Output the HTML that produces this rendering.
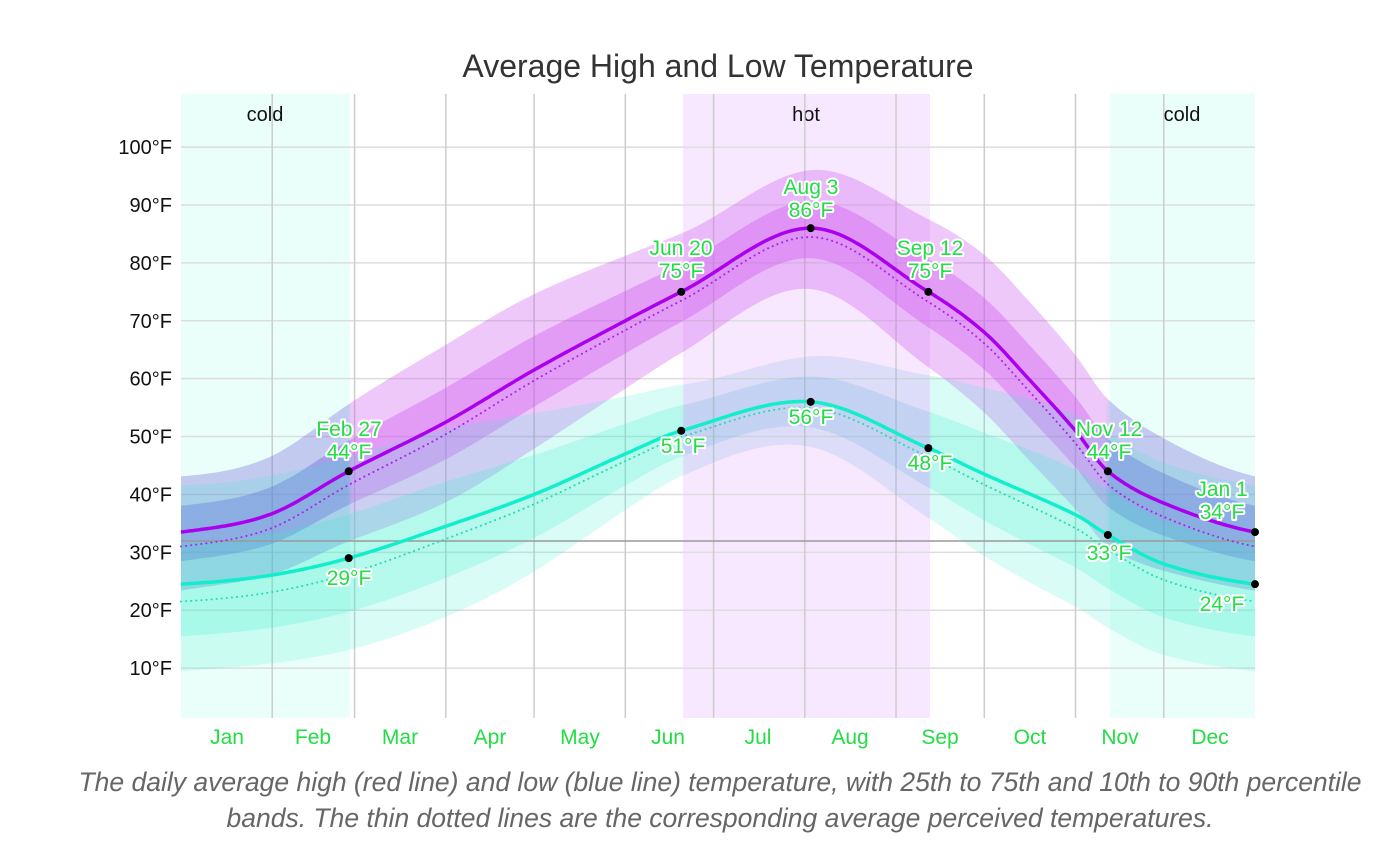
<!DOCTYPE html><html><head><meta charset="utf-8"><style>
body{margin:0;background:#fff;width:1400px;height:861px;overflow:hidden;font-family:"Liberation Sans",sans-serif}
.cap{position:absolute;left:0;width:1440px;text-align:center;top:764px;font-style:italic;color:#666;font-size:26.5px;line-height:36px;white-space:nowrap}
</style></head><body>
<svg id="s" width="1400" height="861" style="position:absolute;left:0;top:0" font-family="Liberation Sans, sans-serif">
<defs>
<linearGradient id="gh" x1="181" x2="1255" gradientUnits="userSpaceOnUse">
<stop offset="0" stop-color="#6a5ad8"/><stop offset="0.155" stop-color="#6a5ad8"/><stop offset="0.16" stop-color="#cc55ee"/><stop offset="0.86" stop-color="#cc55ee"/><stop offset="0.865" stop-color="#6a5ad8"/><stop offset="1" stop-color="#6a5ad8"/></linearGradient>
<linearGradient id="gl" x1="181" x2="1255" gradientUnits="userSpaceOnUse">
<stop offset="0" stop-color="#33eecc"/><stop offset="0.465" stop-color="#33eecc"/><stop offset="0.47" stop-color="#66aadd"/><stop offset="0.695" stop-color="#66aadd"/><stop offset="0.70" stop-color="#33eecc"/><stop offset="1" stop-color="#33eecc"/></linearGradient>
</defs>
<rect x="181" y="94" width="169" height="624" fill="#ebfffa"/>
<rect x="1110" y="94" width="145" height="624" fill="#ebfffa"/>
<rect x="683" y="94" width="247" height="624" fill="#f8e8ff"/>
<text x="718" y="77" text-anchor="middle" font-size="32" fill="#333">Average High and Low Temperature</text>
<text x="265" y="121" text-anchor="middle" font-size="20" fill="#111">cold</text>
<text x="806" y="121" text-anchor="middle" font-size="20" fill="#111">hot</text>
<text x="1182" y="121" text-anchor="middle" font-size="20" fill="#111">cold</text>
<g id="grid"></g>
<g id="bands"></g>
<line x1="181" x2="1255" y1="541" y2="541" stroke="#999" stroke-width="1.5"/>
<g id="lines"></g>
<g id="labs" font-size="21" fill="#22dd44" text-anchor="middle" stroke="#fff" stroke-width="4" paint-order="stroke" stroke-linejoin="round"></g>
</svg>
<div class="cap">The daily average high (red line) and low (blue line) temperature, with 25th to 75th and 10th to 90th percentile<br>bands. The thin dotted lines are the corresponding average perceived temperatures.</div>
<script>
const NS="http://www.w3.org/2000/svg";
function el(p,t,a,txt){const e=document.createElementNS(NS,t);for(const k in a)e.setAttribute(k,a[k]);if(txt!==undefined)e.textContent=txt;document.getElementById(p).appendChild(e);return e;}
const X=d=>181+d*1074/365, Y=t=>726-t*5.789;
for(let t=10;t<=100;t+=10){el('grid','line',{x1:181,x2:1255,y1:Y(t),y2:Y(t),stroke:'#ddd','stroke-width':1.5});
el('grid','text',{x:172,y:Y(t)+7,'text-anchor':'end','font-size':20,fill:'#111'},t+'°F');}
const mb=[31,59,90,120,151,181,212,243,273,304,334];
mb.forEach(d=>el('grid','line',{x1:X(d),x2:X(d),y1:94,y2:718,stroke:'#ccc','stroke-width':1.5}));
const mn=['Jan','Feb','Mar','Apr','May','Jun','Jul','Aug','Sep','Oct','Nov','Dec'],mc=[227,313,400,490,580,668,758,850,940,1030,1120,1210];
mn.forEach((m,i)=>el('grid','text',{x:mc[i],y:744,'text-anchor':'middle','font-size':21,fill:'#22dd44'},m));
function interp(P,d){let i=0;while(i<P.length-2&&d>P[i+1][0])i++;
const p0=P[Math.max(i-1,0)],p1=P[i],p2=P[i+1],p3=P[Math.min(i+2,P.length-1)];
const u=(d-p1[0])/(p2[0]-p1[0]);
const m1=(p2[1]-p0[1])/(p2[0]-p0[0]||1)*(p2[0]-p1[0]),m2=(p3[1]-p1[1])/(p3[0]-p1[0]||1)*(p2[0]-p1[0]);
const u2=u*u,u3=u2*u;return (2*u3-3*u2+1)*p1[1]+(u3-2*u2+u)*m1+(-2*u3+3*u2)*p2[1]+(u3-u2)*m2;}
const H=[[-20,33.2],[0,33.5],[30,36.5],[57,44],[90,52.5],[120,61.5],[151,70],[170,75],[214,86],[254,75],[273,68],[288,60],[304,51],[315,44],[334,38.5],[365,33.5],[385,33.5]];
const L=[[-20,24.5],[0,24.5],[30,26],[57,29],[90,34.5],[120,40],[151,47],[170,51],[214,56],[254,48],[273,43.5],[304,36.5],[315,33],[334,28],[365,24.5],[385,24.5]];
const w=d=>(1+Math.cos(2*Math.PI*(d-10)/365))/2;
const sp=d=>Math.pow(Math.sin(2*Math.PI*(d-10)/365),2);
function band(f,lo,hi,fill,op){let a=[],b=[];for(let d=0;d<=365;d+=1){a.push(X(d).toFixed(1)+','+Y(f(d)+hi(d)).toFixed(1));b.unshift(X(d).toFixed(1)+','+Y(f(d)+lo(d)).toFixed(1));}
el('bands','polygon',{points:a.concat(b).join(' '),fill:fill,'fill-opacity':op});}
const h=d=>interp(H,d),l=d=>interp(L,d);
band(h,d=>-10-4*sp(d),d=>9.5+4*sp(d),'url(#gh)',0.32);
band(h,d=>-5-1.5*sp(d),d=>4.5+1.5*sp(d),'url(#gh)',0.38);
band(l,d=>-7-8*w(d)-4*sp(d),d=>7+10*w(d)+4*sp(d),'url(#gl)',0.18);
band(l,d=>-4-5*w(d)-2*sp(d),d=>4+3*w(d)+2*sp(d),'url(#gl)',0.22);
function line(f,off,col,wd,dash){let p=[];for(let d=0;d<=365;d++)p.push(X(d).toFixed(1)+','+Y(f(d)+off(d)).toFixed(1));const a={points:p.join(' '),fill:'none',stroke:col,'stroke-width':wd};if(dash){a['stroke-dasharray']=dash;a['stroke-linecap']='round';}el('lines','polyline',a);}
line(h,d=>-1.5-1*w(d),'#aa22ee',2,'0.1,5');
line(l,d=>-1-2*w(d),'#22ddaa',2,'0.1,5');
line(h,d=>0,'#aa00ee',3.5);
line(l,d=>0,'#11eecc',3.5);
[[57,44],[170,75],[214,86],[254,75],[315,44],[365,33.5],[57,29],[170,51],[214,56],[254,48],[315,33],[365,24.5]].forEach(([d,t])=>el('lines','circle',{cx:X(d),cy:Y(t),r:4,fill:'#000'}));
const lb=[[349,436,'Feb 27'],[349,459,'44°F'],[681,255,'Jun 20'],[681,278,'75°F'],[811,194,'Aug 3'],[811,217,'86°F'],[930,255,'Sep 12'],[930,278,'75°F'],[1109,436,'Nov 12'],[1109,459,'44°F'],[1222,496,'Jan 1'],[1222,519,'34°F'],[349,585,'29°F'],[683,453,'51°F'],[811,424,'56°F'],[930,470,'48°F'],[1109,560,'33°F'],[1222,611,'24°F']];
lb.forEach(([x,y,t])=>el('labs','text',{x:x,y:y},t));
</script>
</body></html>
